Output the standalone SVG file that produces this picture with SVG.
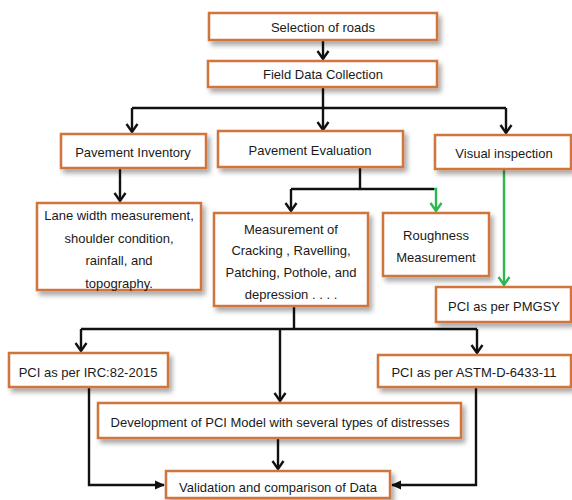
<svg xmlns="http://www.w3.org/2000/svg" width="572" height="500" viewBox="0 0 572 500">
<defs>
<filter id="sh" x="-10%" y="-20%" width="125%" height="160%">
<feGaussianBlur in="SourceAlpha" stdDeviation="2.5"/>
<feOffset dx="3" dy="4" result="b"/>
<feComponentTransfer><feFuncA type="linear" slope="0.35"/></feComponentTransfer>
<feMerge><feMergeNode/><feMergeNode in="SourceGraphic"/></feMerge>
</filter>
<marker id="ak" markerWidth="14" markerHeight="14" refX="11" refY="7" orient="auto" markerUnits="userSpaceOnUse" viewBox="0 0 14 14">
<path d="M3,1.5 L11,7 L3,12.5" fill="none" stroke="#111" stroke-width="2.4"/>
</marker>
<marker id="ag" markerWidth="14" markerHeight="14" refX="11" refY="7" orient="auto" markerUnits="userSpaceOnUse" viewBox="0 0 14 14">
<path d="M3,1.5 L11,7 L3,12.5" fill="none" stroke="#2db84d" stroke-width="2.4"/>
</marker>
<marker id="ar" markerWidth="12" markerHeight="12" refX="10" refY="6" orient="auto" markerUnits="userSpaceOnUse" viewBox="0 0 12 12">
<path d="M1,1.5 L11,6 L1,10.5 Z" fill="#111"/>
</marker>
</defs>
<style>
.box{fill:#fff;stroke:#d0743a;stroke-width:2.5;filter:url(#sh)}
.t{font-family:"Liberation Sans",Arial,sans-serif;font-size:13px;fill:#1a1a1a;text-anchor:middle;dominant-baseline:central}
.c{fill:none;stroke:#111;stroke-width:2.4}
.g{fill:none;stroke:#2db84d;stroke-width:2.4}
</style>
<rect width="572" height="500" fill="#fff"/>
<g id="connectors">
<path class="c" d="M323,40 V59" marker-end="url(#ak)"/>
<path class="c" d="M323,87 V108"/>
<path class="c" d="M132,108 H506"/>
<path class="c" d="M132,108 V132" marker-end="url(#ak)"/>
<path class="c" d="M323,108 V130" marker-end="url(#ak)"/>
<path class="c" d="M506,108 V133" marker-end="url(#ak)"/>
<path class="c" d="M120,168 V201" marker-end="url(#ak)"/>
<path class="c" d="M360,167 V189"/>
<path class="c" d="M291,189 H434"/>
<path class="c" d="M291,189 V211" marker-end="url(#ak)"/>
<path class="g" d="M434,189 H436 V211" marker-end="url(#ag)"/>
<path class="g" d="M504,169 V285" marker-end="url(#ag)"/>
<path class="c" d="M294,306 V329"/>
<path class="c" d="M81,329 H477"/>
<path class="c" d="M81,329 V351" marker-end="url(#ak)"/>
<path class="c" d="M280,329 V401" marker-end="url(#ak)"/>
<path class="c" d="M477,329 V353" marker-end="url(#ak)"/>
<path class="c" d="M278,438 V469" marker-end="url(#ak)"/>
<path class="c" d="M89,387 V485 H164" marker-end="url(#ar)"/>
<path class="c" d="M476,387 V485 H392" marker-end="url(#ar)"/>
</g>
<g id="n1"><rect class="box" x="209" y="13" width="228" height="27"/><text class="t" x="323" y="27">Selection of roads</text></g>
<g id="n2"><rect class="box" x="208" y="61" width="229" height="26"/><text class="t" x="323" y="74">Field Data Collection</text></g>
<g id="n3"><rect class="box" x="61" y="134" width="145" height="34"/><text class="t" x="133" y="152">Pavement Inventory</text></g>
<g id="n4"><rect class="box" x="218" y="131" width="185" height="36"/><text class="t" x="310" y="150">Pavement Evaluation</text></g>
<g id="n5"><rect class="box" x="435" y="135" width="136" height="34"/><text class="t" x="504" y="153">Visual inspection</text></g>
<g id="n6"><rect class="box" x="37" y="203" width="164" height="87"/>
<text class="t" x="119" y="215">Lane width measurement,</text>
<text class="t" x="119" y="238">shoulder condition,</text>
<text class="t" x="119" y="260">rainfall, and</text>
<text class="t" x="119" y="283">topography.</text></g>
<g id="n7"><rect class="box" x="214" y="213" width="154" height="93"/>
<text class="t" x="291" y="229">Measurement of</text>
<text class="t" x="291" y="250">Cracking , Ravelling,</text>
<text class="t" x="291" y="272">Patching, Pothole, and</text>
<text class="t" x="291" y="294">depression . . . .</text></g>
<g id="n8"><rect class="box" x="383" y="213" width="106" height="63"/>
<text class="t" x="436" y="235">Roughness</text>
<text class="t" x="436" y="257">Measurement</text></g>
<g id="n9"><rect class="box" x="436" y="287" width="135" height="35"/><text class="t" x="504" y="306">PCI as per PMGSY</text></g>
<g id="n10"><rect class="box" x="9" y="353" width="159" height="34"/><text class="t" x="88" y="372">PCI as per IRC:82-2015</text></g>
<g id="n11"><rect class="box" x="378" y="355" width="193" height="32"/><text class="t" x="474" y="372">PCI as per ASTM-D-6433-11</text></g>
<g id="n12"><rect class="box" x="98" y="403" width="363" height="35"/><text class="t" x="280" y="422">Development of PCI Model with several types of distresses</text></g>
<g id="n13"><rect class="box" x="166" y="471" width="224" height="27"/><text class="t" x="278" y="487">Validation and comparison of Data</text></g>
</svg>
